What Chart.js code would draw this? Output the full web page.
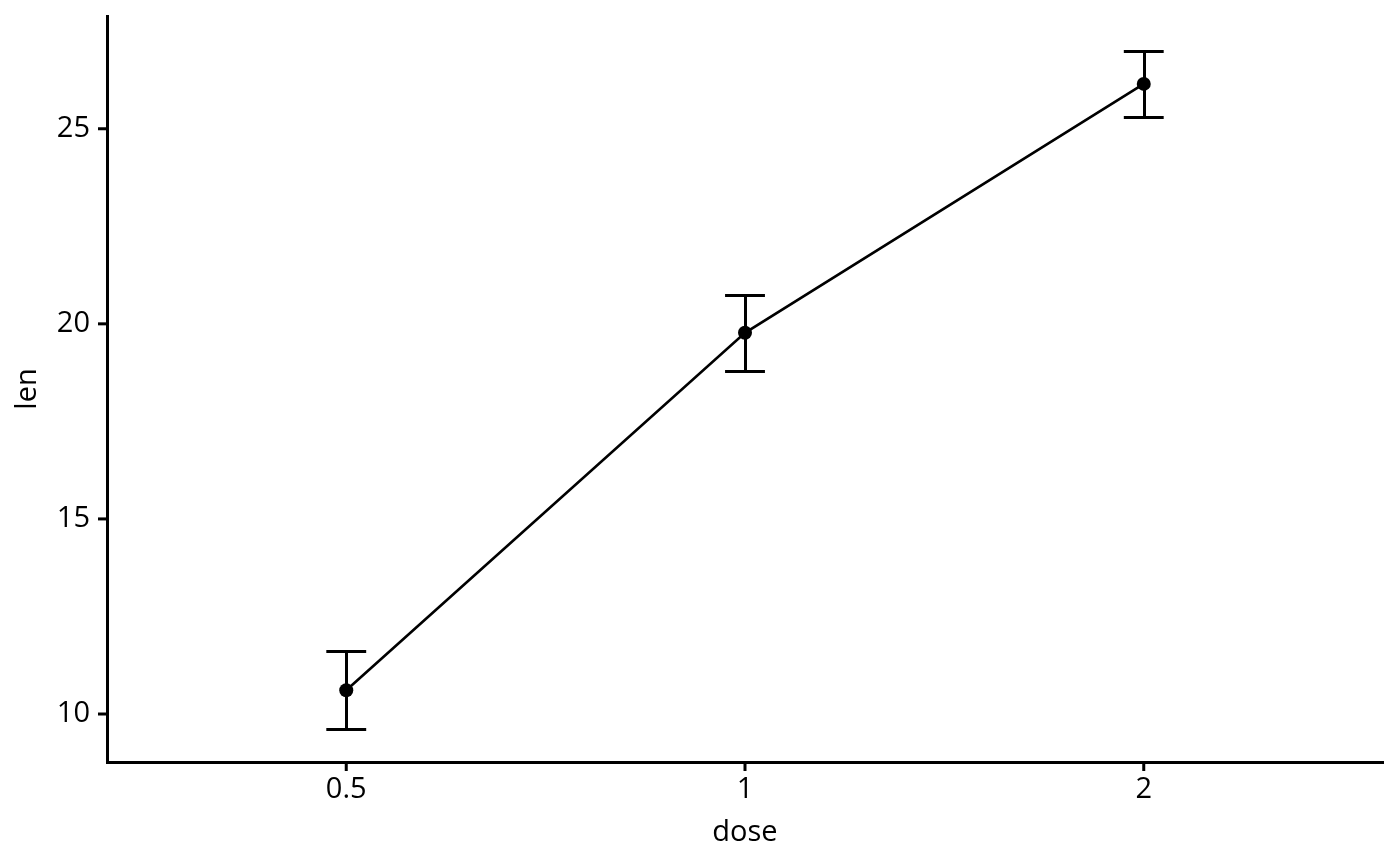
<!DOCTYPE html>
<html>
<head>
<meta charset="utf-8">
<script src="https://cdn.jsdelivr.net/npm/chart.js@4.4.1/dist/chart.umd.min.js"></script>
<style>
  html, body { margin: 0; padding: 0; background: #fff; }
  #wrap { width: 1400px; height: 866px; }
</style>
</head>
<body>
<div id="wrap"><canvas id="c"></canvas></div>
<script>
// values (mean len per dose, with error bar ends)
const doses = ['0.5', '1', '2'];
const doseX = [1, 2, 3];
const lenMean = [10.61, 19.77, 26.15];
const lenLow = [9.62, 18.78, 25.31];
const lenHigh = [11.61, 20.75, 27.0];
const yTicks = [10, 15, 20, 25];

const FONT = '"Open Sans", "Noto Sans", sans-serif';
const TICK = 9;
const LW = 3;

// error bars with caps, drawn through the chart scales
const errorBars = {
  id: 'errorBars',
  beforeDatasetsDraw(chart) {
    const { ctx, scales: { x, y } } = chart;
    ctx.save();
    ctx.strokeStyle = '#000';
    ctx.lineWidth = LW;
    for (let i = 0; i < doseX.length; i++) {
      const px = Math.round(x.getPixelForValue(doseX[i])) + 0.5;
      const l = x.getPixelForValue(doseX[i] - 0.05);
      const r = x.getPixelForValue(doseX[i] + 0.05);
      const top = Math.round(y.getPixelForValue(lenHigh[i])) + 0.5;
      const bot = Math.round(y.getPixelForValue(lenLow[i])) + 0.5;
      ctx.beginPath();
      ctx.moveTo(px, top); ctx.lineTo(px, bot);
      ctx.moveTo(l, top); ctx.lineTo(r, top);
      ctx.moveTo(l, bot); ctx.lineTo(r, bot);
      ctx.stroke();
    }
    ctx.restore();
  },
  // outward tick marks on both axes
  afterDraw(chart) {
    const { ctx, chartArea, scales: { x, y } } = chart;
    ctx.save();
    ctx.fillStyle = '#000';
    yTicks.forEach(v => {
      const py = y.getPixelForValue(v);
      ctx.fillRect(chartArea.left - TICK, py - LW / 2, TICK, LW);
    });
    doseX.forEach(v => {
      const px = x.getPixelForValue(v);
      ctx.fillRect(px - LW / 2, chartArea.bottom, LW, TICK);
    });
    ctx.restore();
  }
};

new Chart(document.getElementById('c'), {
  type: 'line',
  data: {
    datasets: [{
      data: doseX.map((v, i) => ({ x: v, y: lenMean[i] })),
      borderColor: '#000',
      backgroundColor: '#000',
      borderWidth: 2.6,
      pointRadius: 7,
      pointBorderWidth: 0,
      tension: 0,
      clip: false
    }]
  },
  options: {
    responsive: true,
    maintainAspectRatio: false,
    animation: false,
    layout: { padding: { top: 16, right: 17, left: 0, bottom: 0 } },
    plugins: { legend: { display: false }, tooltip: { enabled: false } },
    scales: {
      x: {
        type: 'linear',
        min: 0.4, max: 3.6,
        afterBuildTicks: s => { s.ticks = doseX.map(v => ({ value: v })); },
        afterFit: s => { s.height = 104; s.paddingLeft = 0; s.paddingRight = 0; },
        ticks: {
          callback: v => doses[doseX.indexOf(v)],
          color: '#000', font: { family: FONT, size: 29 }, padding: 10,
          maxRotation: 0
        },
        grid: { drawOnChartArea: false, drawTicks: false },
        border: { display: true, color: '#000', width: LW },
        title: { display: true, text: 'dose', color: '#000', font: { family: FONT, size: 29 }, padding: { top: 0, bottom: 16 } }
      },
      y: {
        min: 8.77, max: 27.89,
        afterBuildTicks: s => { s.ticks = yTicks.map(v => ({ value: v })); },
        afterFit: s => { s.width = 107; s.paddingTop = 0; s.paddingBottom = 0; },
        ticks: { color: '#000', font: { family: FONT, size: 29 }, padding: 17 },
        grid: { drawOnChartArea: false, drawTicks: false },
        border: { display: true, color: '#000', width: LW },
        title: { display: true, text: 'len', color: '#000', font: { family: FONT, size: 29 }, padding: { top: 10, bottom: 0 } }
      }
    }
  },
  plugins: [errorBars]
});
</script>
</body>
</html>
